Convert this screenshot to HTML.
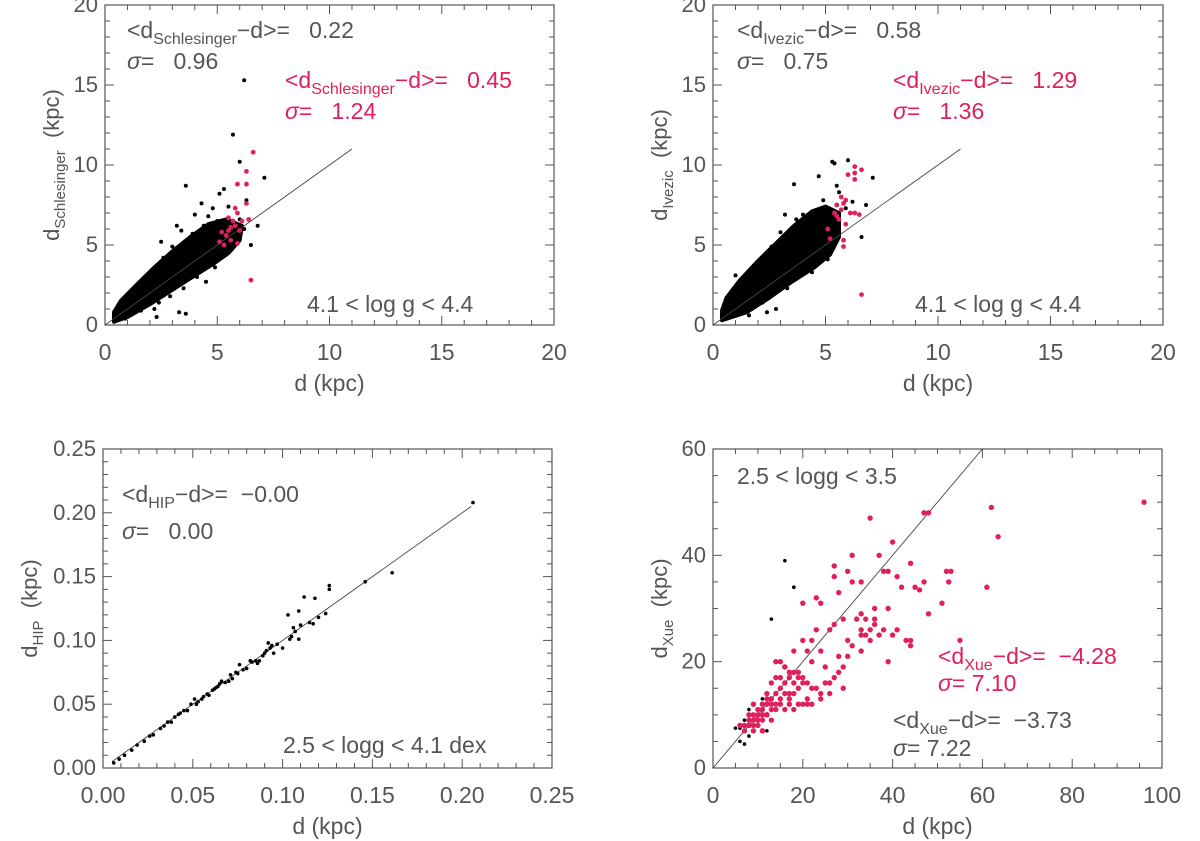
<!DOCTYPE html>
<html><head><meta charset="utf-8">
<style>
html,body{margin:0;padding:0;background:#fff;}
svg{display:block;}
text{font-family:"Liberation Sans",sans-serif;fill:#555;}
.red{fill:#e0205a;}
</style></head>
<body>
<svg id="fig" width="1200" height="841" viewBox="0 0 1200 841" xmlns="http://www.w3.org/2000/svg">
<g id="p1"></g>
<g id="p2"></g>
<g id="p3"></g>
<g id="p4"></g>
</svg>
<script>
// ---------- data ----------
const schlesCloud = [[0.4,0.2],[1,0.5],[2,1.3],[3,2.2],[4,3.1],[4.8,3.8],[5.5,4.5],[6,5.3],[6.1,6.2],[5.4,6.6],[4.6,6.3],[3.8,5.5],[3,4.6],[2.2,3.6],[1.4,2.5],[0.7,1.5],[0.4,0.8]];
const schlesBlackX = [6.2,5.7,6.0,3.6,7.1,5.3,5.1,4.0,3.2,2.5,4.8,4.3,5.5,6.5,2.3,3.3,3.6,6.2,6.0,4.5,1.5,2.0,2.7,1.2,1.8,2.6,3.0,3.9,4.4,2.9,3.5,4.1,4.9,1.0,0.9,2.2,3.4,4.6,5.0,5.8,6.3,6.8,1.6,2.4];
const schlesBlackY = [15.3,11.9,10.2,8.7,9.2,8.5,8.2,6.9,6.2,5.2,7.3,7.6,7.4,5.0,0.5,0.8,0.7,6.0,6.6,2.7,1.7,2.1,3.4,2.0,3.0,4.2,4.9,5.7,6.2,1.8,2.3,3.0,3.6,1.7,0.4,1.0,5.9,6.8,6.5,5.5,7.8,6.2,0.9,1.4];
const schlesRedX = [6.6,6.3,5.9,6.3,6.3,5.8,5.9,6.4,6.5,5.2,5.4,5.6,5.8,6.0,5.3,5.5,5.7,5.1,5.9,6.1,5.5,5.6];
const schlesRedY = [10.8,9.6,8.8,8.8,7.6,7.3,7.0,6.6,2.8,5.8,5.6,5.3,6.2,5.9,5.0,6.7,6.5,5.2,5.1,6.5,5.9,6.1];

const ivezCloud = [[0.4,0.3],[1.5,0.8],[2.5,1.7],[3.5,2.7],[4.5,3.6],[5.2,4.4],[5.6,5.5],[5.6,7.0],[5.0,7.4],[4.4,7.1],[3.6,6.2],[2.8,5.1],[2.0,4.0],[1.2,2.8],[0.6,1.7],[0.4,0.9]];
const ivezBlackX = [6.0,5.3,5.4,4.7,3.6,7.1,6.8,3.2,2.4,2.8,6.6,5.9,5.5,1.0,3.8,4.6,4.2,1.3,1.9,2.6,3.0,4.0,4.9,2.2,3.3,4.4,5.1,0.8,1.6,2.9,3.7,5.6,6.2];
const ivezBlackY = [10.3,10.2,10.1,9.3,8.8,9.2,7.5,6.9,0.8,1.0,5.5,7.3,8.7,3.1,6.4,5.4,5.0,2.2,3.5,4.9,5.8,6.9,7.8,1.4,2.3,3.3,4.1,1.8,0.6,4.4,6.6,8.3,7.7];
const ivezRedX = [6.3,6.3,6.6,6.0,6.3,5.7,5.8,5.9,5.5,5.4,5.7,6.1,6.3,6.5,5.1,5.2,5.8,5.8,6.6,5.6,5.9,5.5];
const ivezRedY = [9.9,9.5,9.7,9.4,9.1,8.0,7.6,7.8,7.5,7.0,7.2,7.0,7.0,6.9,6.0,5.4,5.3,4.9,1.9,6.6,6.3,6.8];

const hipX = [0.006,0.009,0.012,0.016,0.019,0.023,0.026,0.028,0.032,0.034,0.036,0.038,0.04,0.042,0.043,0.045,0.047,0.049,0.051,0.052,0.053,0.055,0.056,0.058,0.059,0.061,0.062,0.063,0.064,0.065,0.066,0.068,0.07,0.071,0.072,0.074,0.075,0.076,0.078,0.08,0.082,0.083,0.085,0.086,0.087,0.089,0.09,0.091,0.092,0.093,0.094,0.095,0.097,0.1,0.103,0.104,0.105,0.106,0.107,0.109,0.109,0.11,0.112,0.115,0.117,0.118,0.12,0.124,0.126,0.126,0.146,0.161,0.206];
const hipY = [0.004,0.007,0.01,0.014,0.018,0.021,0.025,0.026,0.031,0.033,0.036,0.036,0.04,0.042,0.043,0.045,0.045,0.05,0.054,0.05,0.052,0.054,0.056,0.058,0.057,0.061,0.062,0.063,0.064,0.066,0.068,0.067,0.068,0.073,0.07,0.075,0.074,0.081,0.077,0.078,0.084,0.083,0.084,0.082,0.084,0.088,0.09,0.092,0.098,0.094,0.096,0.09,0.097,0.094,0.12,0.101,0.103,0.11,0.107,0.123,0.101,0.112,0.134,0.114,0.113,0.133,0.118,0.121,0.143,0.14,0.146,0.153,0.208];

const xueRedX = [96,62,63.5,48,47,35,40,37,44,39,31,23,27,27,31,30,33,38,41,42,45,46,47,48,51,52,52.5,53,61,55,36,39,28,24,18,20,20,14,15,17,16,21,22,23,26,27,29,32,33,34,34,36,37,38,41,43,44,39,25,28,30,33,33,35,35,36,40,44,13,14,15,16,17,18,19,20,21,22,23,24,25,26,27,28,29,30,31,33,12,12,13,14,15,16,17,18,19,20,21,22,10,11,11,12,13,14,15,16,17,18,19,20,8,9,9,10,10,11,12,13,7,8,9,10,11,12,6,7,8,9,21,24,26,29,19,18,17,15,14,13,11,10,22,24,16,12,9,8,10,11];
const xueRedY = [50,49,43.5,48,48,47,42.5,40,38.5,37,40,32,38,36,35,37,35,37,36,34,34,33.5,35,29,31,37,35,37,34,24,28,30,33,31,22,24,31,20,20,18,19,22,24,26,26,27,28,28,29,28,25,27,25,26,26,24,24,20,19,21,24,22,25,26,24,30,25,23,16,17,17,16,17,18,17,16,16,15,15,14,16,16,17,18,19,21,23,26,14,12,13,14,12,14,13,11,12,12,13,12,10,11,12,13,12,12,13,11,12,14,15,17,9,10,8,9,11,9,10,11,8,8,7,9,10,10,8,7,8,9,12,13,14,15,18,16,14,15,11,9,7,8,20,22,19,10,12,10,9,10];
const xueBlackX = [16,18,13,5,6,7,8,9,10,11,12,8,7,6,9,10];
const xueBlackY = [39,34,28,7.5,5,4.5,6,7,8,13,7,11,9,7.5,12,11];

// ---------- drawing helpers ----------
const NS = 'http://www.w3.org/2000/svg';
const RED = '#e0205a';
function mk(parent, tag, attrs){ const e=document.createElementNS(NS,tag); for(const k in attrs) e.setAttribute(k,attrs[k]); parent.appendChild(e); return e; }
function axes(L,R,T,B, x0,x1,y0,y1){
  return { sx:v=>L+(v-x0)/(x1-x0)*(R-L), sy:v=>B-(v-y0)/(y1-y0)*(B-T) };
}
function frame(g,L,R,T,B,x0,x1,y0,y1,xMaj,xMin,yMaj,yMin,fmt,yOff,yt){
  const ax=axes(L,R,T,B,x0,x1,y0,y1);
  const f=mk(g,'rect',{x:L,y:T,width:R-L,height:B-T,fill:'none',stroke:'#555','stroke-width':1.2});
  
  
  const eps=1e-9;
  for(let v=x0; v<=x1+eps; v+=xMin){
    const maj=Math.abs(Math.round((v-x0)/xMaj)*xMaj-(v-x0))<1e-6; const len=maj?9:5; const x=ax.sx(v);
    mk(g,'line',{x1:x,y1:B,x2:x,y2:B-len,stroke:'#555','stroke-width':1});
    mk(g,'line',{x1:x,y1:T,x2:x,y2:T+len,stroke:'#555','stroke-width':1});
    if(maj){ const t=mk(g,'text',{x:x,y:B+35,'text-anchor':'middle','font-size':23}); t.textContent=fmt(v);
        }
  }
  for(let v=y0; v<=y1+eps; v+=yMin){
    const maj=Math.abs(Math.round((v-y0)/yMaj)*yMaj-(v-y0))<1e-6; const len=maj?9:5; const y=ax.sy(v);
    mk(g,'line',{x1:L,y1:y,x2:L+len,y2:y,stroke:'#555','stroke-width':1});
    mk(g,'line',{x1:R,y1:y,x2:R-len,y2:y,stroke:'#555','stroke-width':1});
    if(maj){ const t=mk(g,'text',{x:L-7,y:y+7,'text-anchor':'end','font-size':22}); t.textContent=fmt(v);
        }
  }
  const xtt=mk(g,'text',{x:(L+R)/2,y:B+66,'text-anchor':'middle','font-size':23}); xtt.textContent='d (kpc)';
   
  const cy=(T+B)/2, cx=L-yOff;
  const ytt=mk(g,'text',{x:cx,y:cy,'text-anchor':'middle','font-size':22,transform:`rotate(-90 ${cx} ${cy})`});
  ytt.innerHTML=`d<tspan font-size="15" dy="6">${yt}</tspan><tspan dy="-6">&#160;&#160;(kpc)</tspan>`;
   
  return ax;
}
function label(g,x,y,html,cls,name){
  const t=mk(g,'text',{x:x,y:y,'font-size':23}); if(cls) t.setAttribute('class',cls);
  t.innerHTML=html;   return t;
}
function diff(sub,val){ return `&lt;d<tspan font-size="16" dy="6">${sub}</tspan><tspan dy="-6">−d&gt;=&#160;&#160;${val}</tspan>`; }
function sig(val,sp){ return `<tspan font-style="italic">σ</tspan>=${sp}${val}`; }
function dots(g,ax,xs,ys,color,r,name){
  for(let i=0;i<xs.length;i++){
    const c=mk(g,'circle',{cx:ax.sx(xs[i]),cy:ax.sy(ys[i]),r:r,fill:color});
    
    
  }
}
function cloud(g,ax,pts){
  const p=mk(g,'polygon',{points:pts.map(q=>ax.sx(q[0])+','+ax.sy(q[1])).join(' '),fill:'#000',stroke:'#000','stroke-width':4,'stroke-linejoin':'round'});
  
  
}
function oneline(g,ax,a,b){
  const l=mk(g,'line',{x1:ax.sx(a),y1:ax.sy(a),x2:ax.sx(b),y2:ax.sy(b),stroke:'#444','stroke-width':0.9});
  
  
}
const fInt=v=>String(Math.round(v));
const f2=v=>v.toFixed(2);

// Panel 1
(function(){
  const g=document.getElementById('p1');
  const ax=frame(g,105,554,5,325,0,20,0,20,5,1,5,1,fInt,46,'Schlesinger');
  cloud(g,ax,schlesCloud); dots(g,ax,schlesBlackX,schlesBlackY,'#000',2,'star-point');
  oneline(g,ax,0,11); dots(g,ax,schlesRedX,schlesRedY,RED,2.4,'red-star-point');
  label(g,127,38,diff('Schlesinger','&#160;0.22'),'','mean-diff-label');
  label(g,127,69,sig('0.96','&#160;&#160;&#160;'),'','sigma-label');
  label(g,285,88,diff('Schlesinger','&#160;0.45'),'red','red-mean-diff-label');
  label(g,285,119,sig('1.24','&#160;&#160;&#160;'),'red','red-sigma-label');
  label(g,307,312,'4.1 &lt; log g &lt; 4.4','','logg-range-label');
})();
// Panel 2
(function(){
  const g=document.getElementById('p2');
  const ax=frame(g,713,1163,5,325,0,20,0,20,5,1,5,1,fInt,46,'Ivezic');
  cloud(g,ax,ivezCloud); dots(g,ax,ivezBlackX,ivezBlackY,'#000',2,'star-point');
  oneline(g,ax,0,11); dots(g,ax,ivezRedX,ivezRedY,RED,2.4,'red-star-point');
  label(g,737,38,diff('Ivezic','&#160;0.58'),'','mean-diff-label');
  label(g,737,69,sig('0.75','&#160;&#160;&#160;'),'','sigma-label');
  label(g,893,88,diff('Ivezic','&#160;1.29'),'red','red-mean-diff-label');
  label(g,893,119,sig('1.36','&#160;&#160;&#160;'),'red','red-sigma-label');
  label(g,915,312,'4.1 &lt; log g &lt; 4.4','','logg-range-label');
})();
// Panel 3
(function(){
  const g=document.getElementById('p3');
  const ax=frame(g,103,552,449,768,0,0.25,0,0.25,0.05,0.01,0.05,0.01,f2,66,'HIP');
  oneline(g,ax,0.005,0.205); dots(g,ax,hipX,hipY,'#000',1.8,'star-point');
  label(g,122,502,diff('HIP','−0.00'),'','mean-diff-label');
  label(g,122,539,sig('0.00','&#160;&#160;&#160;'),'','sigma-label');
  label(g,283,753,'2.5 &lt; logg &lt; 4.1 dex','','logg-range-label');
})();
// Panel 4
(function(){
  const g=document.getElementById('p4');
  const ax=frame(g,713,1162,449,768,0,100,0,60,20,5,20,5,fInt,46,'Xue');
  oneline(g,ax,0,60);
  dots(g,ax,xueBlackX,xueBlackY,'#000',1.8,'star-point');
  dots(g,ax,xueRedX,xueRedY,RED,2.7,'red-star-point');
  label(g,737,484,'2.5 &lt; logg &lt; 3.5','','logg-range-label');
  label(g,938,664,diff('Xue','−4.28'),'red','red-mean-diff-label');
  label(g,938,691,sig('7.10','&#160;'),'red','red-sigma-label');
  label(g,893,728,diff('Xue','−3.73'),'','mean-diff-label');
  label(g,893,756,sig('7.22','&#160;'),'','sigma-label');
})();
</script>
</body></html>
